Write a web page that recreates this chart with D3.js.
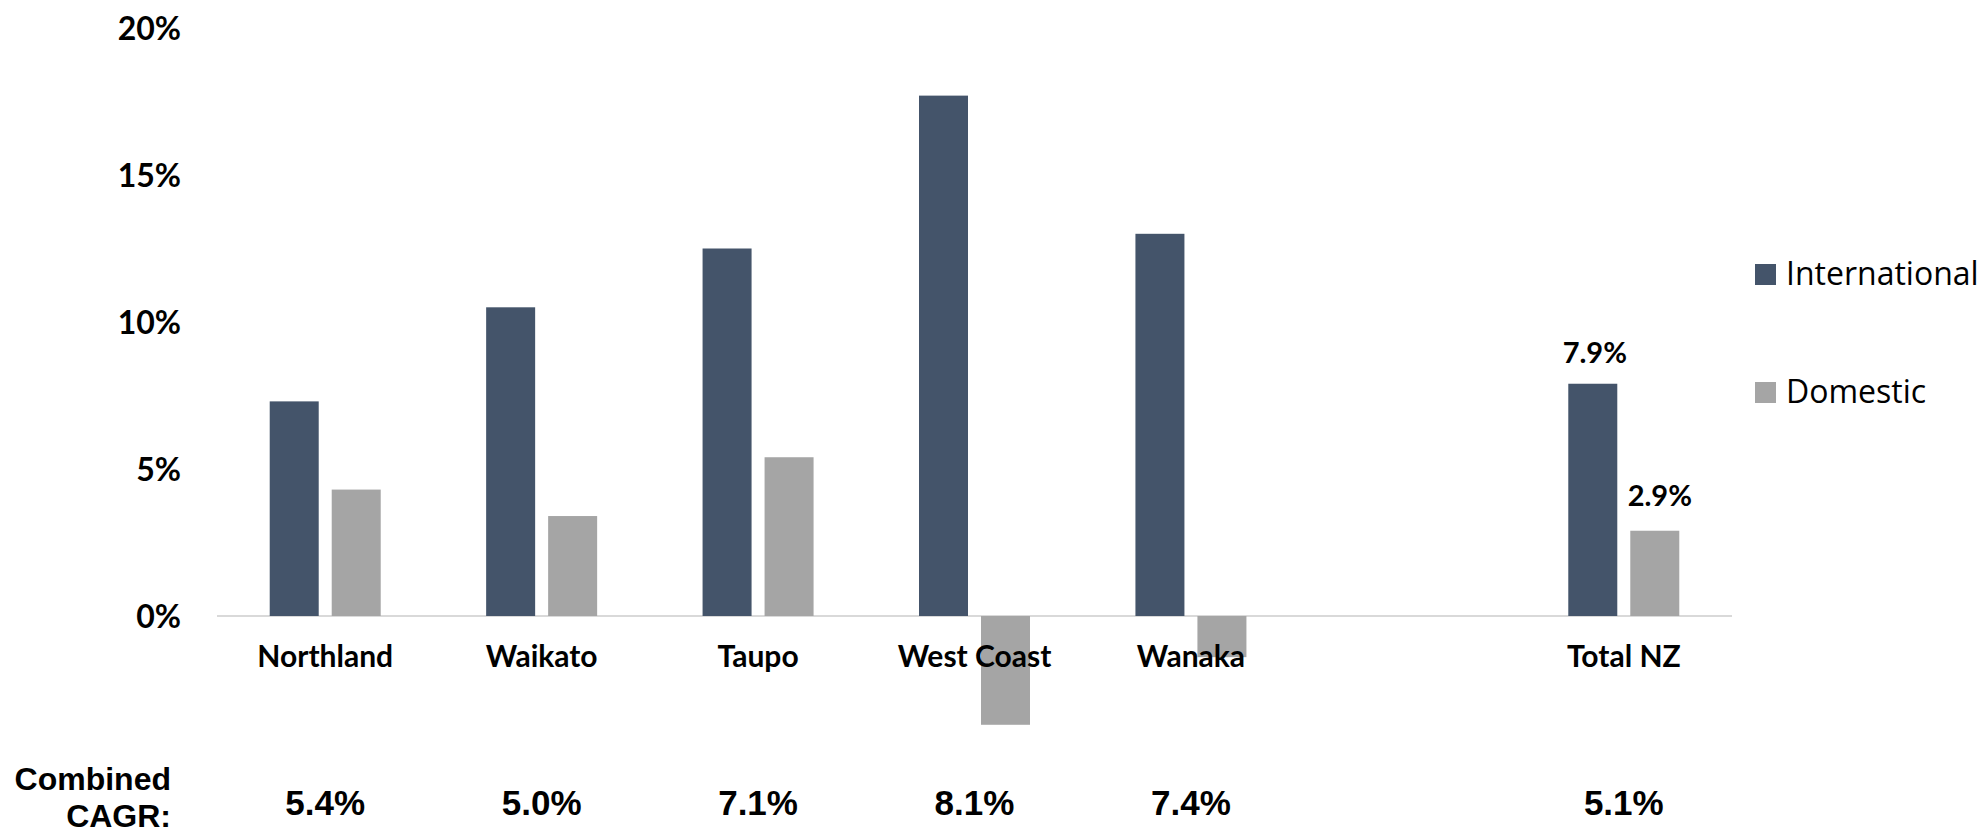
<!DOCTYPE html>
<html>
<head>
<meta charset="utf-8">
<script src="https://cdn.jsdelivr.net/npm/d3@7"></script>
<style>
  html, body { margin: 0; padding: 0; background: #ffffff; }
  svg { display: block; }
</style>
</head>
<body>
<svg id="chart" width="1988" height="834"></svg>
<script>
// ---- data ----
const categories = ["Northland", "Waikato", "Taupo", "West Coast", "Wanaka", "", "Total NZ"];
const international = [7.3, 10.5, 12.5, 17.7, 13.0, null, 7.9];
const domestic = [4.3, 3.4, 5.4, -3.7, -1.4, null, 2.9];
const combinedCAGR = ["5.4%", "5.0%", "7.1%", "8.1%", "7.4%", "", "5.1%"];
const seriesNames = ["International", "Domestic"];
const yTicks = [0, 5, 10, 15, 20];
const labelledCategory = "Total NZ";

// ---- layout ----
const colors = { International: "#44546a", Domestic: "#a5a5a5" };
const calibriLike = "Lato, 'Open Sans', sans-serif";
const arialLike = "'Liberation Sans', Arial, sans-serif";

const svg = d3.select("#chart");

const x = d3.scaleBand().domain(categories).range([217, 1732]).paddingInner(0).paddingOuter(0);
const y = d3.scaleLinear().domain([-5, 20]).range([763, 28]);

const barW = 49, gap = 13;
const x1 = d3.scaleOrdinal().domain(seriesNames).range([-gap / 2 - barW, gap / 2]);

// axis baseline
svg.append("line")
  .attr("x1", x.range()[0]).attr("x2", x.range()[1])
  .attr("y1", y(0)).attr("y2", y(0))
  .attr("stroke", "#d9d9d9").attr("stroke-width", 2);

// y axis tick labels
const yAxis = d3.axisLeft(y).tickValues(yTicks).tickFormat(d => d + "%").tickSize(0).tickPadding(0);
const yg = svg.append("g").attr("transform", "translate(181,0)").call(yAxis);
yg.select(".domain").remove();
yg.selectAll("text")
  .attr("font-family", calibriLike).attr("font-weight", "bold")
  .attr("font-size", 32).attr("fill", "#000").attr("dy", "0.36em");

// bars
const rows = categories.map((c, i) => ({ c, International: international[i], Domestic: domestic[i] }));
const groups = svg.append("g").selectAll("g").data(rows.filter(r => r.c !== ""))
  .join("g").attr("transform", d => `translate(${x(d.c) + x.bandwidth() / 2},0)`);

groups.selectAll("rect")
  .data(d => seriesNames.map(s => ({ s, v: d[s], c: d.c })))
  .join("rect")
  .attr("x", d => x1(d.s))
  .attr("width", barW)
  .attr("y", d => y(Math.max(0, d.v)))
  .attr("height", d => Math.abs(y(d.v) - y(0)))
  .attr("fill", d => colors[d.s]);

// value labels for Total NZ
groups.filter(d => d.c === labelledCategory).selectAll("text.val")
  .data(d => seriesNames.map(s => ({ s, v: d[s] })))
  .join("text").attr("class", "val")
  .attr("x", d => x1(d.s) + barW / 2 + (d.s === "Domestic" ? 5 : 2))
  .attr("y", d => y(d.v) - (d.s === "Domestic" ? 25 : 21))
  .attr("text-anchor", "middle")
  .attr("font-family", calibriLike).attr("font-weight", "bold").attr("font-size", 29)
  .attr("fill", "#000")
  .text(d => d.v.toFixed(1) + "%");

// category labels
const xAxis = d3.axisBottom(x).tickSize(0).tickPadding(0);
const xg = svg.append("g").attr("transform", "translate(0,667)").call(xAxis);
xg.select(".domain").remove();
xg.selectAll("text")
  .attr("font-family", calibriLike).attr("font-weight", "bold")
  .attr("font-size", 30).attr("fill", "#000").attr("dy", 0).attr("y", 0);

// combined CAGR row
svg.append("text")
  .attr("text-anchor", "end")
  .attr("font-family", arialLike).attr("font-weight", "bold").attr("font-size", 32)
  .attr("fill", "#000")
  .call(t => {
    t.append("tspan").attr("x", 171).attr("y", 790).text("Combined");
    t.append("tspan").attr("x", 171).attr("y", 827).text("CAGR:");
  });

svg.append("g").selectAll("text").data(categories.map((c, i) => ({ c, v: combinedCAGR[i] })).filter(d => d.v !== ""))
  .join("text")
  .attr("x", d => x(d.c) + x.bandwidth() / 2)
  .attr("y", 815)
  .attr("text-anchor", "middle")
  .attr("font-family", arialLike).attr("font-weight", "bold").attr("font-size", 35)
  .attr("fill", "#000")
  .text(d => d.v);

// legend
const legendY = { International: 285, Domestic: 403 };
const lg = svg.append("g").selectAll("g").data(seriesNames).join("g");
lg.append("rect")
  .attr("x", 1755).attr("y", d => legendY[d] - 21)
  .attr("width", 21).attr("height", 21)
  .attr("fill", d => colors[d]);
lg.append("text")
  .attr("x", 1786).attr("y", d => legendY[d])
  .attr("font-family", "'Open Sans', sans-serif").attr("font-size", 32)
  .attr("fill", "#000")
  .text(d => d);
</script>
</body>
</html>
